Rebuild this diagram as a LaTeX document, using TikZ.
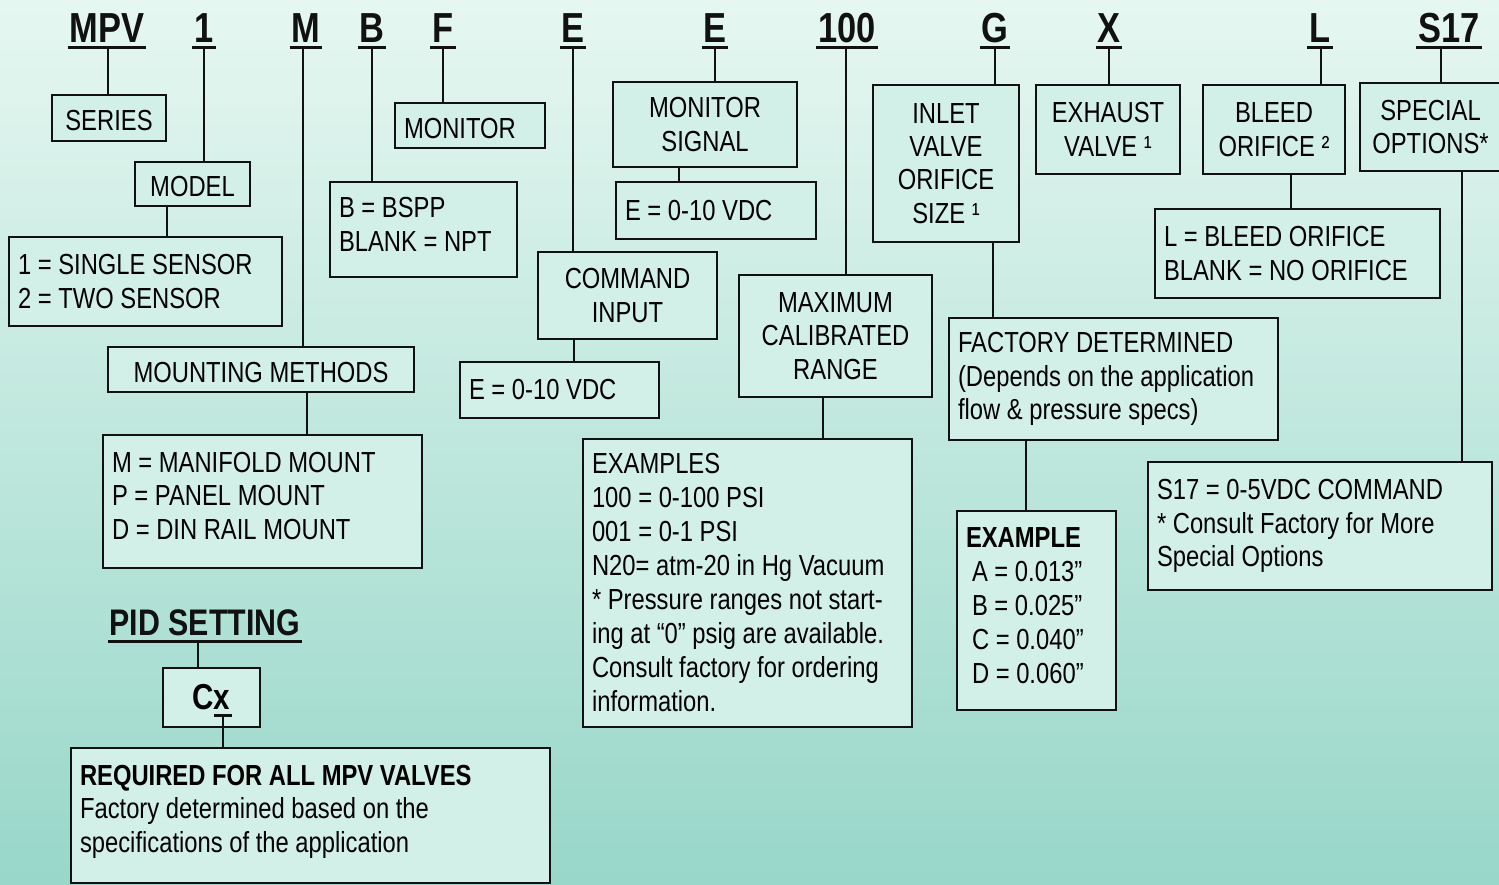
\documentclass[tikz,border=0pt]{standalone}
\usepackage{fontspec}
\setmainfont{Liberation Sans}[FakeStretch=0.82]
\usetikzlibrary{calc}
\definecolor{bgtop}{RGB}{230,247,241}
\definecolor{bgbot}{RGB}{152,215,201}
\definecolor{boxfill}{RGB}{210,240,231}
\definecolor{ink}{RGB}{17,17,17}
\begin{document}
\begin{tikzpicture}[x=1pt,y=-1pt,
  box/.style={draw=ink, line width=2.6pt, fill=boxfill, inner ysep=0pt, outer sep=0pt,
    anchor=north west, font=\fontsize{29}{33.5}\selectfont},
  tbox/.style={box, align=center, inner xsep=0pt},
  lbox/.style={box, align=flush left, inner xsep=9pt},
  oneline/.style={text height=25pt, text depth=0pt},
  hdr/.style={font=\fontsize{42}{42}\selectfont\bfseries, anchor=base, inner sep=0pt, outer sep=0pt, text=ink},
  conn/.style={draw=ink, line width=2.6pt},
  uline/.style={draw=ink, line width=3pt}]
\useasboundingbox (0,0) rectangle (1499,884);
\clip (0,0) rectangle (1499,884);
\shade[top color=bgtop, bottom color=bgbot] (0,0) rectangle (1499,884);

% ---------- header code letters ----------
\foreach \nm/\xx/\tx in {MPV/107/MPV, one/204/1, M/306/M, B/372/B, F/443/F, Ea/573/E, Eb/715/E,
  hundred/847/100, G/995/G, X/1109/X, L/1320/L, S/1449/S17}{
  \node[hdr] (h\nm) at (\xx,42) {\tx};
  \draw[uline] ($(h\nm.base west)+(-2,5)$) -- ($(h\nm.base east)+(2,5)$);
}

% ---------- boxes ----------
\node[tbox, oneline, minimum width=114pt, minimum height=46pt] (series) at (52,95) {SERIES};
\node[tbox, oneline, minimum width=115pt, minimum height=44pt] (model) at (135,162) {MODEL};
\node[lbox, text width=255pt, minimum height=89pt] (modelopt) at (9,237)
  {1 = SINGLE SENSOR\\2 = TWO SENSOR};
\node[tbox, oneline, minimum width=306pt, minimum height=45pt] (mounting) at (108,347) {MOUNTING METHODS};
\node[lbox, text width=301pt, minimum height=133pt, text depth=79pt] (mountopt) at (103,435)
  {M = MANIFOLD MOUNT\\P = PANEL MOUNT\\D = DIN RAIL MOUNT};
\node[lbox, oneline, text width=132pt, minimum height=45pt] (monitor) at (395,103) {MONITOR};
\node[lbox, text width=169pt, minimum height=95pt, text depth=43.5pt] (bspp) at (330,182)
  {B = BSPP\\BLANK = NPT};
\node[tbox, minimum width=179pt, minimum height=87pt] (cmd) at (538,252) {COMMAND\\INPUT};
\node[lbox, text width=181pt, minimum height=56pt] (cmdopt) at (460,362) {E = 0-10 VDC};
\node[tbox, minimum width=184pt, minimum height=85pt] (monsig) at (613,82) {MONITOR\\SIGNAL};
\node[lbox, text width=182pt, minimum height=57pt] (monopt) at (616,182) {E = 0-10 VDC};
\node[tbox, minimum width=193pt, minimum height=122pt] (range) at (739,275)
  {MAXIMUM\\CALIBRATED\\RANGE};
\node[lbox, text width=311pt, minimum height=288pt, font=\fontsize{29}{34}\selectfont] (examples) at (583,439)
  {EXAMPLES\\100 = 0-100 PSI\\001 = 0-1 PSI\\N20= atm-20 in Hg Vacuum\\{*} Pressure ranges not start-\\ing at “0” psig are available.\\Consult factory for ordering\\information.};
\node[tbox, minimum width=146pt, minimum height=157pt, font=\fontsize{29}{33.3}\selectfont] (inlet) at (873,85)
  {INLET\\VALVE\\ORIFICE\\SIZE ¹};
\node[lbox, text width=311pt, minimum height=122pt] (factory) at (949,318)
  {FACTORY DETERMINED\\(Depends on the application\\flow \& pressure specs)};
\node[lbox, text width=141pt, minimum height=199pt, text depth=146pt, font=\fontsize{29}{34}\selectfont] (example) at (957,511)
  {\textbf{EXAMPLE}\\\hspace*{6pt}A = 0.013”\\\hspace*{6pt}B = 0.025”\\\hspace*{6pt}C = 0.040”\\\hspace*{6pt}D = 0.060”};
\node[tbox, minimum width=144pt, minimum height=89pt] (exhaust) at (1036,85) {EXHAUST\\VALVE ¹};
\node[tbox, minimum width=142pt, minimum height=89pt] (bleed) at (1203,85) {BLEED\\ORIFICE ²};
\node[lbox, text width=267pt, minimum height=89pt] (bleedopt) at (1155,209)
  {L = BLEED ORIFICE\\BLANK = NO ORIFICE};
\node[tbox, minimum width=141pt, minimum height=88pt] (special) at (1360,83) {SPECIAL\\OPTIONS*};
\node[lbox, text width=326pt, minimum height=128pt] (specopt) at (1148,462)
  {S17 = 0-5VDC COMMAND\\{*} Consult Factory for More\\Special Options};

% ---------- PID setting ----------
\node[font=\fontsize{37}{37}\selectfont\bfseries, anchor=base, inner sep=0pt, outer sep=0pt, text=ink] (pid) at (205,635) {PID SETTING};
\draw[uline] ($(pid.base west)+(-2,6)$) -- ($(pid.base east)+(2,6)$);
\node[tbox, minimum width=97pt, minimum height=59pt, font=\fontsize{36}{36}\selectfont\bfseries] (cx) at (163,668) {Cx};
\coordinate (cxu) at (223,715);
\draw[uline] ($(cxu)+(-9,0)$) -- ($(cxu)+(9,0)$);
\node[lbox, text width=461pt, minimum height=135pt, text depth=81pt] (required) at (71,748)
  {\textbf{REQUIRED FOR ALL MPV VALVES}\\Factory determined based on the\\specifications of the application};

% ---------- connectors ----------
\draw[conn] (108,47) -- (108,0 |- series.north);
\draw[conn] (204,47) -- (204,0 |- model.north);
\draw[conn] (167,0 |- model.south) -- (167,0 |- modelopt.north);
\draw[conn] (303,47) -- (303,0 |- mounting.north);
\draw[conn] (307,0 |- mounting.south) -- (307,0 |- mountopt.north);
\draw[conn] (372,47) -- (372,0 |- bspp.north);
\draw[conn] (443,47) -- (443,0 |- monitor.north);
\draw[conn] (573,47) -- (573,0 |- cmd.north);
\draw[conn] (574,0 |- cmd.south) -- (574,0 |- cmdopt.north);
\draw[conn] (715,47) -- (715,0 |- monsig.north);
\draw[conn] (679,0 |- monsig.south) -- (679,0 |- monopt.north);
\draw[conn] (846,47) -- (846,0 |- range.north);
\draw[conn] (823,0 |- range.south) -- (823,0 |- examples.north);
\draw[conn] (995,47) -- (995,0 |- inlet.north);
\draw[conn] (993,0 |- inlet.south) -- (993,0 |- factory.north);
\draw[conn] (1026,0 |- factory.south) -- (1026,0 |- example.north);
\draw[conn] (1109,47) -- (1109,0 |- exhaust.north);
\draw[conn] (1321,47) -- (1321,0 |- bleed.north);
\draw[conn] (1291,0 |- bleed.south) -- (1291,0 |- bleedopt.north);
\draw[conn] (1441,47) -- (1441,0 |- special.north);
\draw[conn] (1462,0 |- special.south) -- (1462,0 |- specopt.north);
\draw[conn] (198,641) -- (198,0 |- cx.north);
\draw[conn] (cxu) -- (cxu |- required.north);
\end{tikzpicture}
\end{document}
